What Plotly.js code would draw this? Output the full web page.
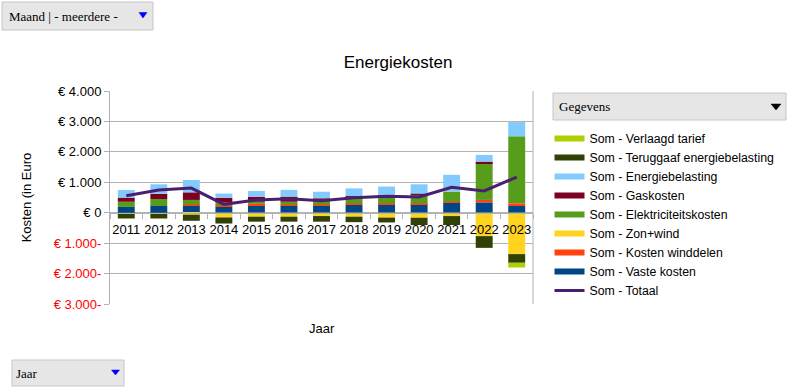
<!DOCTYPE html>
<html>
<head>
<meta charset="utf-8">
<script src="https://cdn.plot.ly/plotly-3.0.1.min.js"></script>
<style>
html,body{margin:0;padding:0;background:#fff;}
#chart{width:796px;height:391px;}
</style>
</head>
<body>
<div id="chart"></div>
<script>
// ---- data ----
const years = ['2011','2012','2013','2014','2015','2016','2017','2018','2019','2020','2021','2022','2023'];
const vasteKosten       = [190, 220, 240, 200, 250, 230, 230, 255, 275, 285, 320, 340, 220];
const kostenWinddelen   = [0, 0, 35, 40, 40, 40, 40, 50, 35, 25, 45, 80, 90];
const zonWind           = [0, 0, -65, -155, -130, -130, -110, -130, -160, -165, -110, -770, -1360];
const elektriciteit     = [170, 230, 145, 100, 70, 90, 130, 190, 185, 280, 330, 1210, 2200];
const gaskosten         = [135, 175, 250, 150, 165, 170, 75, 50, 90, 30, 0, 50, 0];
const energiebelasting  = [250, 310, 405, 140, 190, 220, 215, 255, 275, 315, 550, 220, 470];
const teruggaaf         = [-190, -190, -200, -200, -165, -165, -185, -180, -160, -240, -295, -385, -285];
const verlaagdTarief    = [0, 0, 0, 0, 0, 0, 0, 0, 0, 0, 0, 0, -155];
const totaal            = [555, 745, 810, 275, 420, 455, 395, 490, 540, 515, 835, 715, 1170];

const yTickVals  = [-3000, -2000, -1000, 0, 1000, 2000, 3000, 4000];
const yTickTexts = ['€ 3.000-', '€ 2.000-', '€ 1.000-', '€ 0', '€ 1.000', '€ 2.000', '€ 3.000', '€ 4.000'];

// series definitions: [name, values, colour] in stacking order
const barSeries = [
  ['Som - Vaste kosten', vasteKosten, '#004586'],
  ['Som - Kosten winddelen', kostenWinddelen, '#ff420e'],
  ['Som - Zon+wind', zonWind, '#ffd320'],
  ['Som - Elektriciteitskosten', elektriciteit, '#579d1c'],
  ['Som - Gaskosten', gaskosten, '#7e0021'],
  ['Som - Energiebelasting', energiebelasting, '#83caff'],
  ['Som - Teruggaaf energiebelasting', teruggaaf, '#314004'],
  ['Som - Verlaagd tarief', verlaagdTarief, '#aecf00']
];
const legendOrder = [
  'Som - Verlaagd tarief', 'Som - Teruggaaf energiebelasting', 'Som - Energiebelasting',
  'Som - Gaskosten', 'Som - Elektriciteitskosten', 'Som - Zon+wind',
  'Som - Kosten winddelen', 'Som - Vaste kosten'
];

// ---- layout geometry ----
const W = 796, H = 391;
const PL = 110, PR = 533, PT = 91, PB = 304;
const px2x = p => (p - PL) / (PR - PL);
const px2y = p => (PB - p) / (PB - PT);
const FONT = 'Liberation Sans, Arial, sans-serif';
const SERIF = 'Liberation Serif, Times New Roman, serif';

const traces = [];
barSeries.forEach(([name, vals, col]) => {
  traces.push({
    type: 'bar', x: years, y: vals, name: name, legendgroup: name,
    showlegend: false, marker: {color: col, line: {width: 0}},
    hovertemplate: '%{x}: € %{y}<extra>' + name + '</extra>'
  });
});
// legend entries (wide colour strips like the reference)
legendOrder.forEach(name => {
  const s = barSeries.find(b => b[0] === name);
  traces.push({
    type: 'scatter', mode: 'lines', x: [null], y: [null], name: name,
    legendgroup: name, line: {color: s[2], width: 6}, hoverinfo: 'skip'
  });
});
traces.push({
  type: 'scatter', mode: 'lines', x: years, y: totaal, name: 'Som - Totaal',
  line: {color: '#4b1f6f', width: 3}
});

const ticktext = yTickTexts.map((t, i) => yTickVals[i] < 0 ? '<span style="color:#ff0000">' + t + '</span>' : t);

function button(x0, y0, x1, y1, label, tx, tri, triColor) {
  const shapes = [{
    type: 'rect', xref: 'paper', yref: 'paper',
    x0: px2x(x0), x1: px2x(x1), y0: px2y(y1), y1: px2y(y0),
    fillcolor: '#e6e6e6', line: {color: '#c6c6c6', width: 1}, layer: 'above'
  }, {
    type: 'path', xref: 'paper', yref: 'paper',
    path: 'M' + px2x(tri[0]) + ',' + px2y(tri[1]) + ' L' + px2x(tri[2]) + ',' + px2y(tri[1]) +
          ' L' + px2x((tri[0] + tri[2]) / 2) + ',' + px2y(tri[3]) + ' Z',
    fillcolor: triColor, line: {color: triColor, width: 0.5}, layer: 'above'
  }];
  const ann = {
    xref: 'paper', yref: 'paper', x: px2x(tx), y: px2y((y0 + y1) / 2),
    xanchor: 'left', yanchor: 'middle', showarrow: false, text: label,
    font: {family: SERIF, size: 13, color: '#000'}
  };
  return {shapes, ann};
}
const b1 = button(2, 2, 153, 30, 'Maand | - meerdere -', 7, [139, 12.5, 147, 18], '#0000ff');
const b2 = button(553, 93, 786, 120, 'Gegevens', 557, [771, 104, 781, 110], '#000000');
const b3 = button(12, 360, 124, 386, 'Jaar', 14, [111.5, 370, 119.5, 375], '#0000ff');

const layout = {
  width: W, height: H,
  margin: {l: PL, r: W - PR, t: PT, b: H - PB, pad: 0, autoexpand: false},
  paper_bgcolor: '#ffffff', plot_bgcolor: '#ffffff',
  font: {family: FONT, size: 13, color: '#000'},
  barmode: 'relative', bargap: 0.48,
  showlegend: true,
  title: {text: 'Energiekosten', font: {family: FONT, size: 17, color: '#000'},
          x: 0.5, xref: 'container', xanchor: 'center', y: 1 - 62 / H, yref: 'container', yanchor: 'middle'},
  xaxis: {
    type: 'category', anchor: 'free', position: 3000 / 7000,
    showline: true, linecolor: '#b3b3b3', linewidth: 1,
    ticks: 'outside', tickson: 'boundaries', ticklen: 5, tickcolor: '#b3b3b3',
    tickangle: 0, ticklabelstandoff: 5, showgrid: false,
    tickfont: {family: FONT, size: 13, color: '#000'},
    automargin: false, fixedrange: true
  },
  yaxis: {
    range: [-3000, 4000], tickvals: yTickVals, ticktext: ticktext,
    showgrid: true, gridcolor: '#b3b3b3', gridwidth: 1, zeroline: false,
    showline: true, linecolor: '#b3b3b3', linewidth: 1,
    ticks: 'outside', ticklen: 5, tickcolor: '#b3b3b3',
    tickfont: {family: FONT, size: 13, color: '#000'},
    title: {text: 'Kosten (in Euro', font: {family: FONT, size: 13, color: '#000'}, standoff: 19},
    automargin: false, fixedrange: true
  },
  legend: {
    x: px2x(549.5), y: px2y(124), xanchor: 'left', yanchor: 'top',
    bgcolor: 'rgba(0,0,0,0)', borderwidth: 0,
    font: {family: FONT, size: 12.3, color: '#000'},
    traceorder: 'normal', tracegroupgap: 0, itemwidth: 30
  },
  shapes: [
    {type: 'line', xref: 'paper', yref: 'paper', x0: 1, x1: 1, y0: 0, y1: 1,
     line: {color: '#b3b3b3', width: 1}}
  ].concat(b1.shapes, b2.shapes, b3.shapes),
  annotations: [
    {xref: 'paper', yref: 'paper', x: 0.5, y: px2y(328), xanchor: 'center', yanchor: 'middle',
     showarrow: false, text: 'Jaar', font: {family: FONT, size: 13, color: '#000'}},
    b1.ann, b2.ann, b3.ann
  ]
};

Plotly.newPlot('chart', traces, layout, {displayModeBar: false, staticPlot: false});
</script>
</body>
</html>
